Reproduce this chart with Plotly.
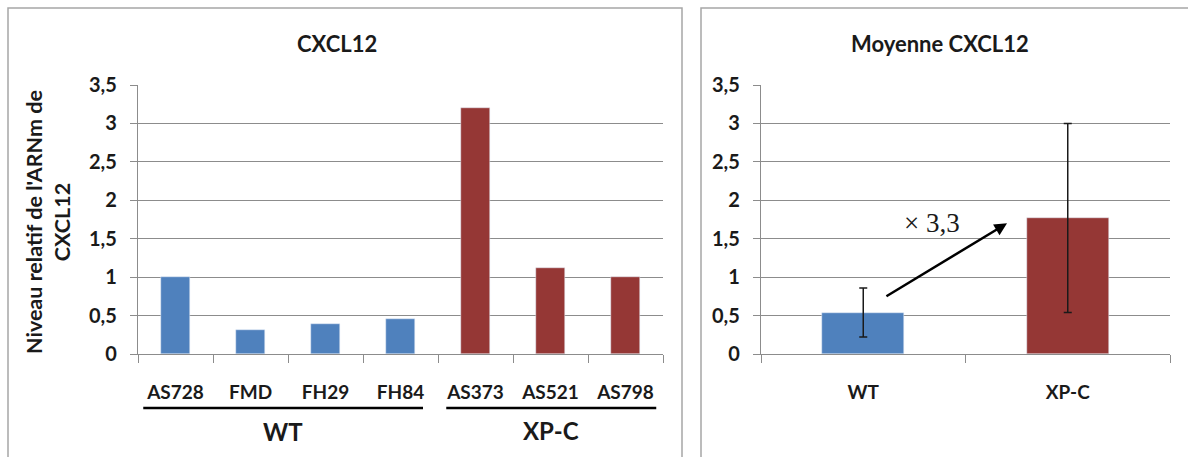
import plotly.graph_objects as go

# ---- data ----
samples = ["AS728", "FMD", "FH29", "FH84", "AS373", "AS521", "AS798"]
wt_samples = ["AS728", "FMD", "FH29", "FH84"]
wt_values = [1.0, 0.31, 0.39, 0.46]
xpc_samples = ["AS373", "AS521", "AS798"]
xpc_values = [3.2, 1.12, 1.0]

groups = ["WT", "XP-C"]
group_means = [0.54, 1.77]
group_sd = [0.32, 1.23]

y_ticks = [0, 0.5, 1, 1.5, 2, 2.5, 3, 3.5]

BLUE = "#4F81BD"
RED = "#953735"
GRID = "#8c8c8c"
TXT = "#1a1a1a"
FONT = "Lato"

W, H = 1188, 457


def px(x):
    return x / W


def py(y):
    return 1 - y / H


fig = go.Figure()

# left panel: individual cell lines
fig.add_trace(go.Bar(x=wt_samples, y=wt_values, marker_color=BLUE, width=0.38,
                     xaxis="x", yaxis="y", showlegend=False))
fig.add_trace(go.Bar(x=xpc_samples, y=xpc_values, marker_color=RED, width=0.38,
                     xaxis="x", yaxis="y", showlegend=False))

# right panel: group means with error bars
fig.add_trace(go.Bar(x=groups, y=group_means, marker_color=[BLUE, RED], width=0.40,
                     error_y=dict(type="data", array=group_sd, color=TXT,
                                  thickness=1.5, width=4),
                     xaxis="x2", yaxis="y2", showlegend=False))

ydom = [py(354), py(85)]
yax = dict(range=[0, 3.5], tickvals=y_ticks, showgrid=True, gridcolor=GRID,
           gridwidth=1.3, zeroline=False, showline=True, linecolor=GRID,
           linewidth=1.3, ticks="outside", ticklen=7, tickcolor=GRID,
           tickwidth=1.3, ticklabelstandoff=9, automargin=False,
           tickfont=dict(family=FONT, size=20, color=TXT, weight="bold"),
           domain=ydom, fixedrange=True)
xax = dict(type="category", showline=True, linecolor=GRID, linewidth=1.3,
           ticks="outside", ticklen=8, tickcolor=GRID, tickwidth=1.3,
           tickson="boundaries", showgrid=False, ticklabelstandoff=21,
           automargin=False,
           tickfont=dict(family=FONT, size=19, color=TXT, weight="bold"),
           fixedrange=True)

fig.update_layout(
    width=W, height=H, autosize=False,
    margin=dict(l=0, r=0, t=0, b=0, pad=0, autoexpand=False),
    paper_bgcolor="white", plot_bgcolor="white",
    separators=", ",
    bargap=0,
    xaxis=dict(xax, domain=[px(138), px(663)], categoryorder="array",
               categoryarray=samples, anchor="y"),
    yaxis=dict(yax, anchor="x"),
    xaxis2=dict(xax, domain=[px(761), px(1170)], categoryorder="array",
                categoryarray=groups, anchor="y2"),
    yaxis2=dict(yax, anchor="x2"),
)

shapes = [
    # chart frames
    dict(type="rect", xref="paper", yref="paper", x0=px(8), x1=px(682),
         y0=py(480), y1=py(8), line=dict(color="#a6a6a6", width=1.5)),
    dict(type="rect", xref="paper", yref="paper", x0=px(701), x1=px(1210),
         y0=py(480), y1=py(8), line=dict(color="#a6a6a6", width=1.5)),
    # group underlines
    dict(type="line", xref="x", yref="paper", x0=-0.43, x1=3.3,
         y0=py(408), y1=py(408), line=dict(color="black", width=2.5)),
    dict(type="line", xref="x", yref="paper", x0=3.61, x1=6.41,
         y0=py(408), y1=py(408), line=dict(color="black", width=2.5)),
]
fig.update_layout(shapes=shapes)

fold = group_means[1] / group_means[0]
fold_txt = f"{fold:.1f}".replace(".", ",")


def label(text, x, y, size, xref="paper", yref="paper", family=FONT, bold=True, angle=0):
    return dict(text=text, xref=xref, yref=yref, x=x, y=y, xanchor="center",
                yanchor="middle", showarrow=False, textangle=angle,
                font=dict(family=family, size=size, color=TXT,
                          weight="bold" if bold else "normal"))


annotations = [
    label("CXCL12", px(337), py(43), 22),
    label("Moyenne CXCL12", px(940), py(43), 22),
    label("Niveau relatif de l'ARNm de<br>CXCL12", px(48), py(222), 21.5, angle=-90),
    label("WT", 1.43, py(431), 24, xref="x"),
    label("XP-C", 5.0, py(430), 24, xref="x"),
    # fold-change arrow
    dict(text="", xref="x2", yref="y2", axref="x2", ayref="y2",
         x=0.703, y=1.70, ax=0.106, ay=0.74, showarrow=True,
         arrowhead=2, arrowsize=1, arrowwidth=2.5, arrowcolor="black"),
    label("\u00d7 " + fold_txt, 0.336, 1.70, 27, xref="x2", yref="y2",
          family="Liberation Serif", bold=False),
]
fig.update_layout(annotations=annotations)

fig.write_html("out.html")
